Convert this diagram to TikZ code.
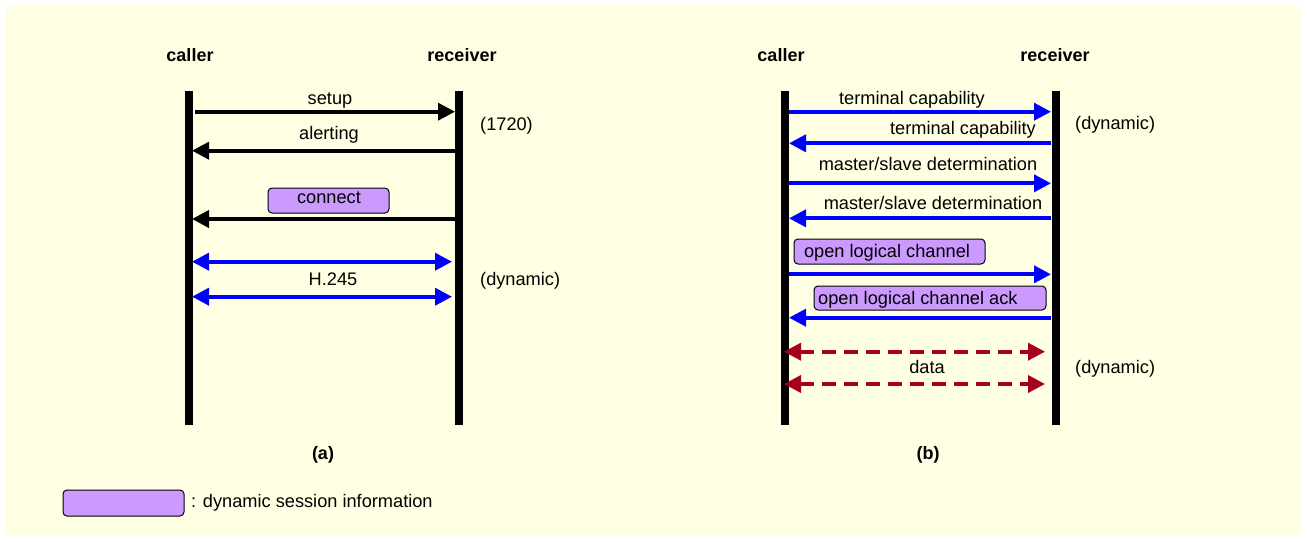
\documentclass[tikz,border=0pt]{standalone}
\usepackage{fontspec}
\setmainfont{Liberation Sans}
\usetikzlibrary{arrows.meta}
\definecolor{bgyellow}{HTML}{FFFFE3}
\definecolor{sessionviolet}{HTML}{CC99FF}
\definecolor{msgblue}{HTML}{0000FF}
\definecolor{datared}{HTML}{A50021}
\tikzset{
  lifeline/.style={line width=8pt, black},
  head/.style={-{Triangle[length=17pt,width=17pt]}},
  dhead/.style={{Triangle[length=17pt,width=17pt]}-{Triangle[length=17pt,width=17pt]}},
  blackmsg/.style={head, line width=3.7pt, black},
  bluemsg/.style={head, line width=3.7pt, msgblue},
  bluebi/.style={dhead, line width=3.7pt, msgblue},
  databi/.style={dhead, line width=3.7pt, datared, dash pattern=on 14pt off 8pt},
  lbl/.style={anchor=base, inner sep=0pt},
  title/.style={anchor=base, inner sep=0pt, font=\fontsize{18}{21}\selectfont\bfseries},
  sessionbox/.style={draw=black, line width=1pt, fill=sessionviolet, rounded corners=4pt}
}
\begin{document}
\begin{tikzpicture}[x=1pt,y=-1pt, font=\fontsize{18.2}{21}\selectfont]
\useasboundingbox (0,0) rectangle (1308,541);
\fill[bgyellow] (6,6) rectangle (1302,535);

% ---------- panel (a) ----------
\node[title] (aCaller) at (190,61.5) {caller};
\node[title] (aRecv) at (462,61.5) {receiver};
\coordinate (aLt) at (188.5,91);
\coordinate (aLb) at (188.5,425);
\coordinate (aRt) at (459,91);
\coordinate (aRb) at (459,425);
\draw[lifeline] (aLt) -- (aLb);
\draw[lifeline] (aRt) -- (aRb);

\coordinate (aS1) at (195,111.7);   \coordinate (aE1) at (455,111.7);
\coordinate (aS2) at (455,150.7);   \coordinate (aE2) at (192,150.7);
\coordinate (aS3) at (455,219);     \coordinate (aE3) at (192,219);
\coordinate (aS4) at (192,261.7);   \coordinate (aE4) at (452,261.7);
\coordinate (aS5) at (192,296.7);   \coordinate (aE5) at (452,296.7);

\draw[blackmsg] (aS1) -- (aE1);
\node[lbl] (setupL) at (330,104) {setup};
\draw[blackmsg] (aS2) -- (aE2);
\node[lbl] (alertL) at (329,139) {alerting};
\node[sessionbox, minimum width=121pt, minimum height=25pt, inner sep=0pt] (connectBox) at (328.5,200.5) {};
\node[lbl] (connectL) at (329,203.5) {connect};
\draw[blackmsg] (aS3) -- (aE3);
\draw[bluebi] (aS4) -- (aE4);
\node[lbl] (h245L) at (333,285.5) {H.245};
\draw[bluebi] (aS5) -- (aE5);
\node[lbl, anchor=base west] (p1720) at (480,130) {(1720)};
\node[lbl, anchor=base west] (aDyn) at (480,285.5) {(dynamic)};
\node[title] (aTag) at (323,459) {(a)};

% ---------- panel (b) ----------
\node[title] (bCaller) at (781,61.5) {caller};
\node[title] (bRecv) at (1055,61.5) {receiver};
\coordinate (bLt) at (784.5,91);
\coordinate (bLb) at (784.5,425);
\coordinate (bRt) at (1055.5,91);
\coordinate (bRb) at (1055.5,425);
\draw[lifeline] (bLt) -- (bLb);
\draw[lifeline] (bRt) -- (bRb);

\coordinate (bS1) at (789,111.7);   \coordinate (bE1) at (1051,111.7);
\coordinate (bS2) at (1051,143.3);  \coordinate (bE2) at (789,143.3);
\coordinate (bS3) at (789,183.3);   \coordinate (bE3) at (1051,183.3);
\coordinate (bS4) at (1051,218.3);  \coordinate (bE4) at (789,218.3);
\coordinate (bS5) at (789,274.3);   \coordinate (bE5) at (1051,274.3);
\coordinate (bS6) at (1051,317.7);  \coordinate (bE6) at (789,317.7);
\coordinate (bS7) at (784,351.7);   \coordinate (bE7) at (1045,351.7);
\coordinate (bS8) at (784,384);     \coordinate (bE8) at (1045,384);

\draw[bluemsg] (bS1) -- (bE1);
\node[lbl] (tc1L) at (912,104) {terminal capability};
\draw[bluemsg] (bS2) -- (bE2);
\node[lbl] (tc2L) at (963,134) {terminal capability};
\draw[bluemsg] (bS3) -- (bE3);
\node[lbl] (ms1L) at (928,170) {master/slave determination};
\draw[bluemsg] (bS4) -- (bE4);
\node[lbl] (ms2L) at (933,209) {master/slave determination};
\node[sessionbox, minimum width=191pt, minimum height=25pt, inner sep=0pt] (olcBox) at (889.5,251.5) {};
\node[lbl] (olcL) at (887,257.5) {open logical channel};
\draw[bluemsg] (bS5) -- (bE5);
\node[sessionbox, minimum width=232pt, minimum height=24pt, inner sep=0pt] (olcaBox) at (930,298) {};
\node[lbl, anchor=base west] (olcaL) at (818,304) {open logical channel ack};
\draw[bluemsg] (bS6) -- (bE6);
\draw[databi] (bS7) -- (bE7);
\node[lbl] (dataL) at (927,373) {data};
\draw[databi] (bS8) -- (bE8);
\node[lbl, anchor=base west] (bDyn1) at (1075,129) {(dynamic)};
\node[lbl, anchor=base west] (bDyn2) at (1075,373) {(dynamic)};
\node[title] (bTag) at (928,459) {(b)};

% ---------- legend ----------
\node[sessionbox, minimum width=121pt, minimum height=26pt, inner sep=0pt] (legBox) at (123.5,503) {};
\node[lbl, anchor=base west] (legL) at (191,507.5) {: dynamic session information};
\end{tikzpicture}
\end{document}
